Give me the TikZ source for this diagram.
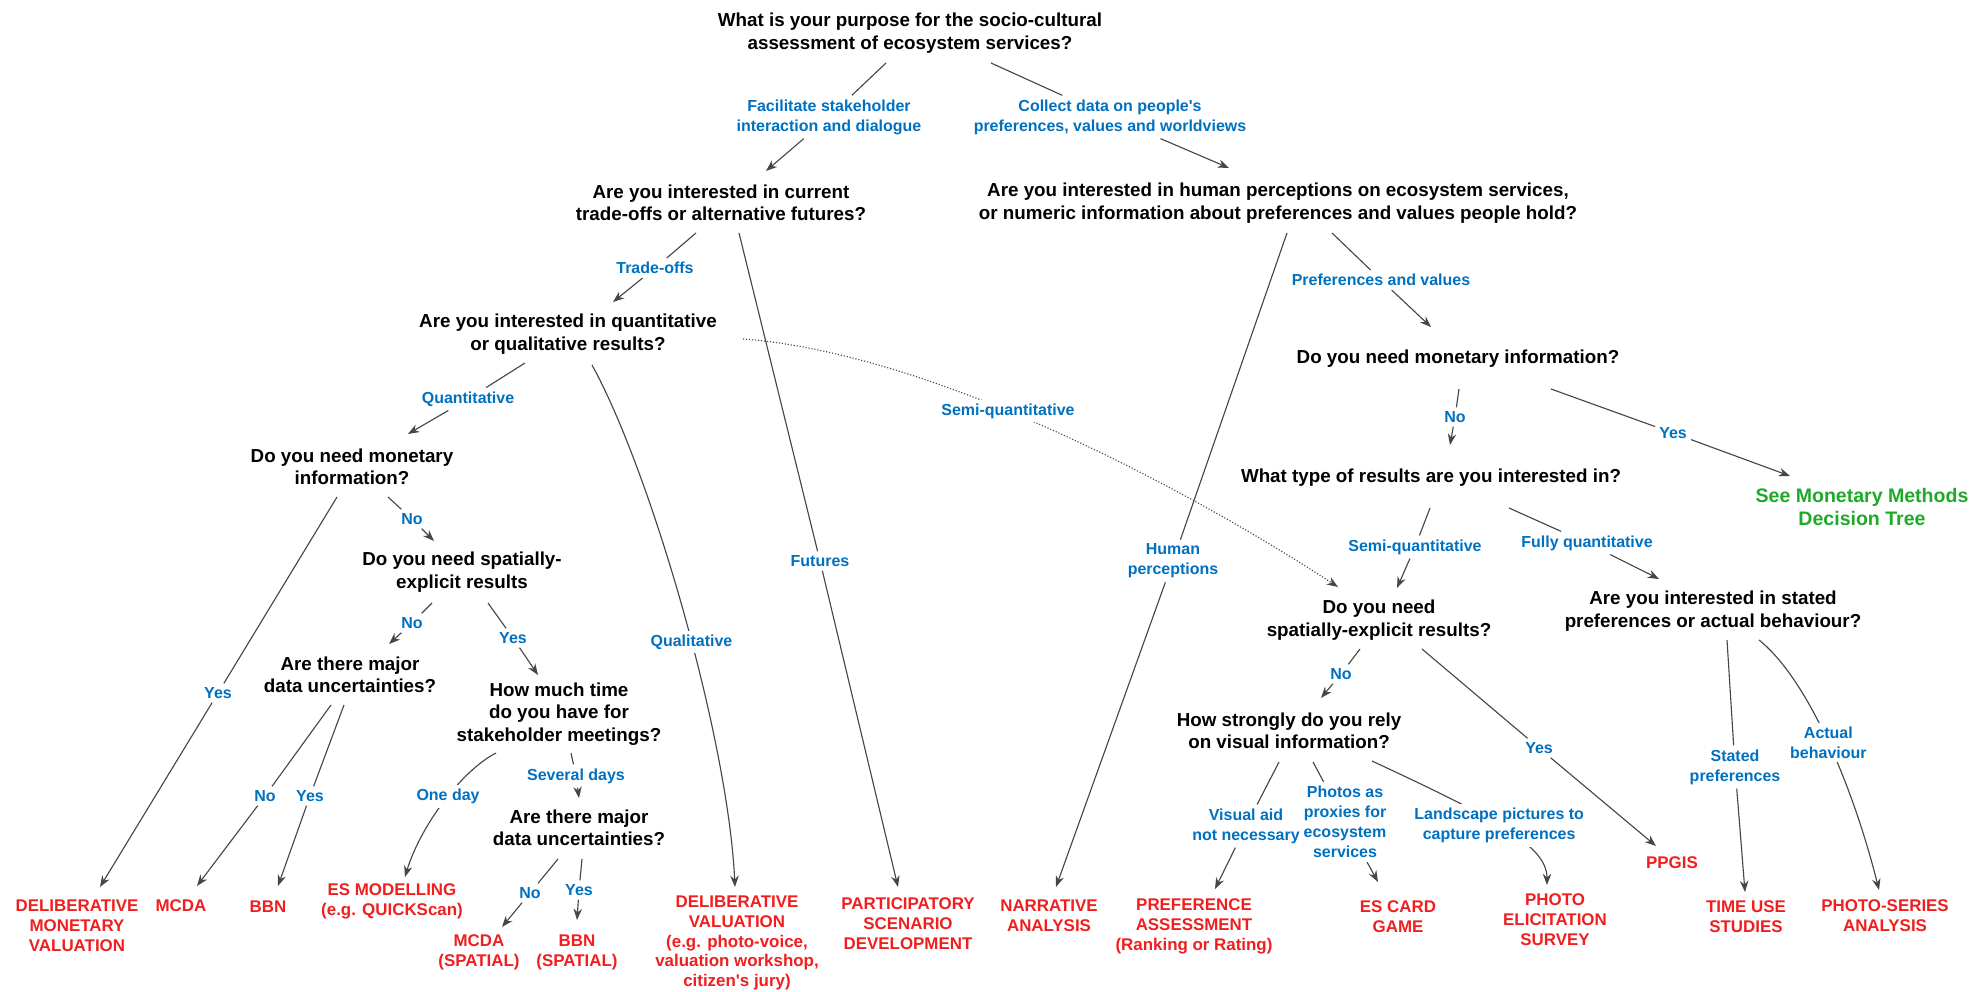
\documentclass[tikz,border=0pt]{standalone}
\usepackage{fontspec}
\setmainfont{Liberation Sans}
\usetikzlibrary{arrows.meta}
\definecolor{lblblue}{RGB}{0,112,192}
\definecolor{methred}{RGB}{240,30,30}
\definecolor{seegreen}{RGB}{30,170,40}
\definecolor{linegray}{RGB}{70,70,70}
\tikzset{
  quest/.style={font=\fontsize{10}{12}\selectfont\bfseries,align=center,inner sep=1pt},
  goal/.style={quest,font=\fontsize{10.4}{12.2}\selectfont\bfseries,text=seegreen},
  lbl/.style={font=\fontsize{8.5}{10.7}\selectfont\bfseries,text=lblblue,align=center,inner sep=2pt},
  method/.style={font=\fontsize{9}{10.6}\selectfont\bfseries,text=methred,align=center,inner sep=1pt},
  link/.style={draw=linegray,line width=0.6pt},
}
\begin{document}
\begin{tikzpicture}[>={Stealth[length=6pt,width=4.5pt]},x=0.0187cm,y=-0.0187cm]
\useasboundingbox (0,0) rectangle (1969,992);
\node[quest] (purpose) at (910,33) {What is your purpose for the socio-cultural\\assessment of ecosystem services?};
\node[quest] (futq) at (721,203) {Are you interested in current\\trade-offs or alternative futures?};
\node[quest] (percq) at (1278,203) {Are you interested in human perceptions on ecosystem services,\\or numeric information about preferences and values people hold?};
\node[quest] (quantq) at (568,334) {Are you interested in quantitative\\or qualitative results?};
\node[quest] (monA) at (352,467) {Do you need monetary\\information?};
\node[quest] (spatA) at (462,572) {Do you need spatially-\\explicit results};
\node[quest] (uncA) at (350,675) {Are there major\\data uncertainties?};
\node[quest] (timeq) at (559,714) {How much time\\do you have for\\stakeholder meetings?};
\node[quest] (uncB) at (579,828) {Are there major\\data uncertainties?};
\node[quest] (monB) at (1458,359) {Do you need monetary information?};
\node[quest] (typeq) at (1431,478) {What type of results are you interested in?};
\node[quest] (spatB) at (1379,620) {Do you need\\spatially-explicit results?};
\node[quest] (statq) at (1713,611) {Are you interested in stated\\preferences or actual behaviour?};
\node[quest] (visq) at (1289,731) {How strongly do you rely\\on visual information?};
\node[goal] (seemon) at (1862,507) {See Monetary Methods\\Decision Tree};
\foreach \n/\x/\y/\t in {facil/829/117/{Facilitate stakeholder\\interaction and dialogue},
    collect/1110/117/{Collect data on people\textquotesingle s\\preferences, values and worldviews},
    trade/655/268/Trade-offs, futures/820/561/Futures, quant/468/399/Quantitative,
    yesA/218/693/Yes, noA/412/519/No, noB/412/623/No, yesB/513/638/Yes,
    noC/265/796/No, yesC/310/796/Yes, several/576/776/Several days,
    noD/530/893/No, yesD/579/890/Yes, human/1173/561/{Human\\perceptions},
    prefval/1381/280/Preferences and values, noE/1455/417/No, yesE/1673/433/Yes,
    semiB/1415/547/Semi-quantitative, fully/1587/543/Fully quantitative,
    noF/1341/674/No, yesF/1539/748/Yes, stated/1735/767/{Stated\\preferences},
    visaid/1246/826/{Visual aid\\not necessary}, photos/1345/822/{Photos as\\proxies for\\ecosystem\\services}}
  \node[lbl] (\n) at (\x,\y) {\t};
\foreach \n/\x/\y/\t in {dmv/77/926/{DELIBERATIVE\\MONETARY\\VALUATION}, mcda/181/906/MCDA, bbn/268/907/BBN,
    esmod/392/901/{ES MODELLING\\(e.g. QUICKScan)}, mcdas/479/952/{MCDA\\(SPATIAL)}, bbns/577/952/{BBN\\(SPATIAL)},
    delib/737/943/{DELIBERATIVE\\VALUATION\\(e.g. photo-voice,\\valuation workshop,\\citizen\textquotesingle s jury)},
    scen/908/924/{PARTICIPATORY\\SCENARIO\\DEVELOPMENT}, narr/1049/916/{NARRATIVE\\ANALYSIS},
    prefa/1194/926/{PREFERENCE\\ASSESSMENT\\(Ranking or Rating)}, card/1398/917/{ES CARD\\GAME},
    photo/1555/920/{PHOTO\\ELICITATION\\SURVEY}, ppgis/1672/863/PPGIS,
    timeuse/1746/917/{TIME USE\\STUDIES}, series/1885/916/{PHOTO-SERIES\\ANALYSIS}}
  \node[method] (\n) at (\x,\y) {\t};
\foreach \a/\ax/\ay/\l/\b/\bx/\by in {purpose/-24/30/facil/futq/45/-32, purpose/81/30/collect/percq/-49/-35,
    futq/-25/30/trade/quantq/45/-32, futq/18/30/futures/scen/-10/-37, quantq/-43/29/quant/monA/56/-33,
    monA/-15/30/yesA/dmv/23/-39, monA/36/30/noA/spatA/-28/-31, spatA/-30/31/noB/uncA/39/-31,
    spatA/26/31/yesB/timeq/-21/-39, uncA/-19/30/noC/mcda/16/-20, uncA/-6/30/yesC/bbn/10/-21,
    timeq/12/39/several/uncB/0/-30, uncB/-21/31/noD/mcdas/23/-25, uncB/3/31/yesD/bbns/0/-32,
    percq/9/30/human/narr/7/-29, percq/54/30/prefval/monB/-27/-32, monB/1/30/noE/typeq/19/-33,
    monB/93/30/yesE/seemon/-72/-31, typeq/-1/30/semiB/spatB/18/-32, typeq/78/30/fully/statq/-54/-32,
    spatB/-19/29/noF/visq/32/-33, spatB/43/29/yesF/ppgis/-16/-17, statq/14/29/stated/timeuse/-1/-25,
    visq/-10/31/visaid/prefa/21/-37, visq/24/31/photos/card/-20/-35}
{
  \draw[link] ([shift={(\ax,\ay)}]\a.center) -- (\l);
  \draw[link,->] (\l) -- ([shift={(\bx,\by)}]\b.center);
}
\draw[link,->] ([shift={(24,31)}]quantq.center) .. controls +(58,105) and +(-7,-150) .. ([shift={(-2,-56)}]delib.center) node[lbl,fill=white,pos=0.555] (qual) {Qualitative};
\draw[link,->] ([shift={(-63,39)}]timeq.center) .. controls +(-35,18) and +(15,-50) .. ([shift={(13,-24)}]esmod.center) node[lbl,fill=white,pos=0.45] (oneday) {One day};
\draw[link,->] ([shift={(46,29)}]statq.center) .. controls +(50,40) and +(-25,-100) .. ([shift={(-6,-26)}]series.center) node[lbl,fill=white,pos=0.5] (actual) {Actual\\behaviour};
\draw[link,->] ([shift={(83,30)}]visq.center) .. controls +(120,56) and +(0,-40) .. ([shift={(-8,-35)}]photo.center) node[lbl,fill=white,pos=0.47] (landscape) {Landscape pictures to\\capture preferences};
\draw[link,densely dotted,->] ([shift={(175,5)}]quantq.center) .. controls +(200,15) and +(-130,-85) .. ([shift={(-41,-33)}]spatB.center) node[lbl,fill=white,pos=0.41] (semiA) {Semi-quantitative};
\end{tikzpicture}
\end{document}
